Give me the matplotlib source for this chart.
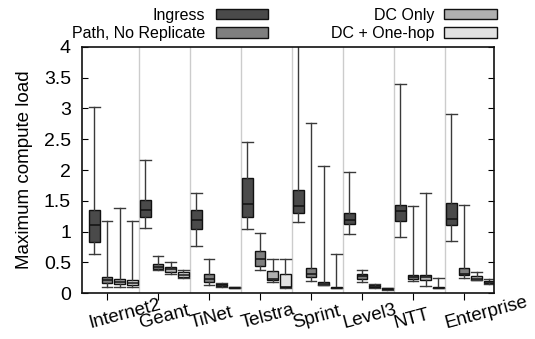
import matplotlib
matplotlib.use("Agg")
import matplotlib.pyplot as plt
from matplotlib.patches import Patch
from matplotlib.transforms import ScaledTranslation

plt.rcParams['font.family'] = ['Liberation Sans', 'DejaVu Sans']

groups = ['Internet2', 'Geant', 'TiNet', 'Telstra', 'Sprint', 'Level3', 'NTT', 'Enterprise']
series = ['Ingress', 'Path, No Replicate', 'DC Only', 'DC + One-hop']
colors = ['#4a4a4a', '#7f7f7f', '#b0b0b0', '#e2e2e2']

# whisker low, q1, median, q3, whisker high for each series
ingress_lo = [0.64, 1.06, 0.77, 1.05, 1.15, 0.97, 0.91, 0.85]
ingress_q1 = [0.83, 1.24, 1.05, 1.23, 1.31, 1.12, 1.17, 1.10]
ingress_med = [1.10, 1.35, 1.19, 1.45, 1.42, 1.19, 1.33, 1.21]
ingress_q3 = [1.35, 1.51, 1.35, 1.87, 1.67, 1.30, 1.43, 1.46]
ingress_hi = [3.03, 2.17, 1.62, 2.45, 4.60, 1.97, 3.39, 2.91]

path_lo = [0.11, 0.37, 0.14, 0.37, 0.20, 0.18, 0.20, 0.25]
path_q1 = [0.16, 0.39, 0.18, 0.45, 0.26, 0.23, 0.24, 0.30]
path_med = [0.21, 0.43, 0.24, 0.55, 0.31, 0.28, 0.27, 0.32]
path_q3 = [0.26, 0.47, 0.31, 0.69, 0.41, 0.32, 0.30, 0.41]
path_hi = [1.18, 0.60, 0.55, 0.98, 2.77, 0.38, 1.42, 1.44]

dc_lo = [0.11, 0.31, 0.11, 0.18, 0.13, 0.08, 0.12, 0.21]
dc_q1 = [0.15, 0.35, 0.12, 0.22, 0.13, 0.10, 0.22, 0.22]
dc_med = [0.18, 0.39, 0.135, 0.24, 0.15, 0.11, 0.26, 0.24]
dc_q3 = [0.23, 0.43, 0.15, 0.36, 0.18, 0.13, 0.30, 0.28]
dc_hi = [1.39, 0.51, 0.17, 0.56, 2.06, 0.15, 1.62, 0.35]

hop_lo = [0.11, 0.25, 0.08, 0.09, 0.08, 0.06, 0.08, 0.15]
hop_q1 = [0.14, 0.27, 0.08, 0.10, 0.08, 0.065, 0.08, 0.16]
hop_med = [0.17, 0.30, 0.09, 0.11, 0.09, 0.07, 0.09, 0.18]
hop_q3 = [0.22, 0.34, 0.10, 0.32, 0.10, 0.08, 0.10, 0.20]
hop_hi = [1.18, 0.37, 0.10, 0.56, 0.63, 0.08, 0.25, 0.23]

all_stats = [
    (ingress_lo, ingress_q1, ingress_med, ingress_q3, ingress_hi),
    (path_lo, path_q1, path_med, path_q3, path_hi),
    (dc_lo, dc_q1, dc_med, dc_q3, dc_hi),
    (hop_lo, hop_q1, hop_med, hop_q3, hop_hi),
]
offsets = [-0.25, 0.0, 0.25, 0.5]

fig = plt.figure(figsize=(5.35, 3.39), dpi=100)
ax = fig.add_axes([0.1533, 0.1348, 0.7701, 0.7274])

for s, (lo, q1, med, q3, hi) in enumerate(all_stats):
    stats = []
    for i in range(len(groups)):
        stats.append({'whislo': lo[i], 'q1': q1[i], 'med': med[i],
                      'q3': q3[i], 'whishi': hi[i], 'fliers': []})
    pos = [i + offsets[s] for i in range(len(groups))]
    ax.bxp(stats, positions=pos, widths=0.21, patch_artist=True,
           showfliers=False, manage_ticks=False,
           boxprops=dict(facecolor=colors[s], edgecolor='#111111', linewidth=1),
           medianprops=dict(color='#111111', linewidth=1.1),
           whiskerprops=dict(color='#3a3a3a', linewidth=1),
           capprops=dict(color='#3a3a3a', linewidth=1),
           capwidths=0.21)

for i in range(len(groups) - 1):
    ax.axvline(i + 0.625, color='#cccccc', linewidth=1, zorder=0)

ax.set_xlim(-0.49, 7.59)
ax.set_ylim(0, 4)
ax.set_yticks([0, 0.5, 1, 1.5, 2, 2.5, 3, 3.5, 4])
ax.set_yticklabels(['0', '0.5', '1', '1.5', '2', '2.5', '3', '3.5', '4'], fontsize=14)
ax.set_xticks(range(len(groups)))
ax.set_xticklabels([])
ax.tick_params(axis='y', direction='in', length=4, left=True, right=True, pad=8)
ax.tick_params(axis='x', direction='out', length=5, top=False)
for sp in ax.spines.values():
    sp.set_linewidth(1.2)
    sp.set_color('#111111')

lab_off = ScaledTranslation(-0.17, -0.35, fig.dpi_scale_trans)
for i, g in enumerate(groups):
    ax.text(i, 0, g, transform=ax.get_xaxis_transform() + lab_off,
            rotation=15, ha='left', va='baseline', rotation_mode='anchor',
            fontsize=13.5)

ax.set_ylabel('Maximum compute load', fontsize=13.5, labelpad=8)

handles = [Patch(facecolor=c, edgecolor='#111111', linewidth=1) for c in colors]
fig.legend(handles, series, ncol=2, loc='upper right',
           bbox_to_anchor=(497 / 535, 1 - 8 / 339), frameon=False,
           markerfirst=False, fontsize=11.5, handlelength=3.3, handleheight=0.6,
           handletextpad=0.65, columnspacing=3.9, labelspacing=0.2,
           borderpad=0, borderaxespad=0)

fig.savefig('out.png', dpi=100)
